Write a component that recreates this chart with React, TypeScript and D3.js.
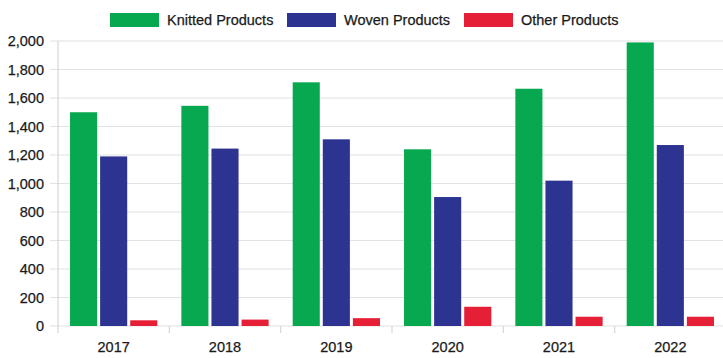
import React from "react";
import * as d3 from "d3";

const years = ["2017", "2018", "2019", "2020", "2021", "2022"];
const seriesNames = ["Knitted Products", "Woven Products", "Other Products"];
const knitted = [1500, 1545, 1710, 1240, 1665, 1990];
const woven = [1190, 1245, 1310, 905, 1020, 1270];
const other = [40, 45, 55, 135, 65, 65];
const yTicks = [0, 200, 400, 600, 800, 1000, 1200, 1400, 1600, 1800, 2000];
const colors = ["#07a84f", "#2c3391", "#e51f35"];

const W = 723;
const H = 358;
const FONT = "'Liberation Sans', Arial, sans-serif";

export default function App() {
  const values = [knitted, woven, other];
  const x0 = d3.scaleBand<string>().domain(years).range([58, 726]).padding(0);
  const bw = x0.bandwidth();
  const x1 = d3
    .scaleBand<string>()
    .domain(seriesNames)
    .range([bw * 0.108, bw * 0.892])
    .paddingInner(0.1);
  const y = d3.scaleLinear().domain([0, 2000]).range([326, 41]);
  const fmt = d3.format(",");

  const legendX = [110, 287, 464];

  return (
    <svg
      width={W}
      height={H}
      style={{ position: "absolute", left: 0, top: 0, background: "#fff" }}
      fontFamily={FONT}
    >
      {/* grid */}
      {yTicks.map((t) => (
        <g key={t}>
          <line x1={50} x2={W} y1={y(t)} y2={y(t)} stroke="#e2e2e2" strokeWidth={1.2} />
          <text
            x={44}
            y={y(t)}
            dy="0.35em"
            textAnchor="end"
            fontSize={14.5}
            fill="#1a1a1a"
            stroke="#1a1a1a"
            strokeWidth={0.25}
          >
            {fmt(t)}
          </text>
        </g>
      ))}
      {/* y axis line */}
      <line x1={58} x2={58} y1={41} y2={333} stroke="#d6d6d6" strokeWidth={1.2} />
      {/* category ticks */}
      {years.map((yr) => (
        <line
          key={"t" + yr}
          x1={(x0(yr) as number) + bw}
          x2={(x0(yr) as number) + bw}
          y1={326}
          y2={333}
          stroke="#d6d6d6"
          strokeWidth={1.2}
        />
      ))}
      {/* bars */}
      {years.map((yr, i) => (
        <g key={yr} transform={`translate(${x0(yr)},0)`}>
          {seriesNames.map((s, k) => (
            <rect
              key={s}
              x={x1(s)}
              y={y(values[k][i])}
              width={x1.bandwidth()}
              height={y(0) - y(values[k][i])}
              fill={colors[k]}
            />
          ))}
          <text
            x={bw / 2}
            y={347}
            dy="0.35em"
            textAnchor="middle"
            fontSize={14.5}
            fill="#1a1a1a"
            stroke="#1a1a1a"
            strokeWidth={0.25}
          >
            {yr}
          </text>
        </g>
      ))}
      {/* legend */}
      {seriesNames.map((s, k) => (
        <g key={"l" + s} transform={`translate(${legendX[k]},0)`}>
          <rect x={0} y={13} width={49} height={14} fill={colors[k]} />
          <text
            x={57}
            y={20}
            dy="0.35em"
            fontSize={14.5}
            fill="#1a1a1a"
            stroke="#1a1a1a"
            strokeWidth={0.25}
          >
            {s}
          </text>
        </g>
      ))}
    </svg>
  );
}
